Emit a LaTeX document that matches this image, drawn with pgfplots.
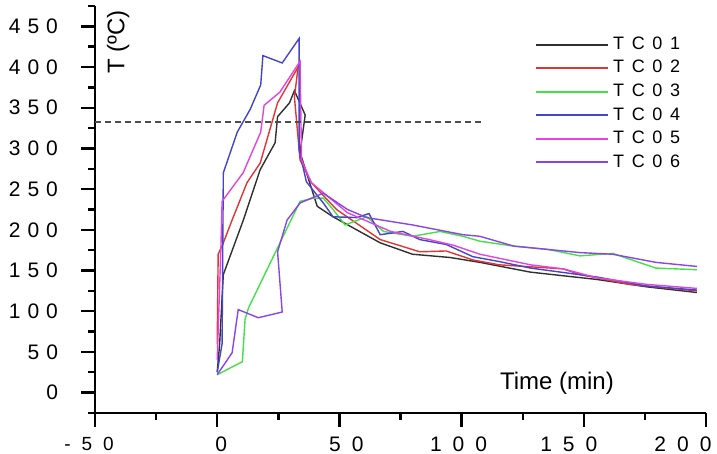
\documentclass[border=0pt]{standalone}
\usepackage{fontspec}
\setmainfont{Liberation Sans}
\usepackage{pgfplots}
\pgfplotsset{compat=1.18}

\definecolor{tcA}{HTML}{303030}
\definecolor{tcB}{HTML}{E03535}
\definecolor{tcC}{HTML}{45E045}
\definecolor{tcD}{HTML}{4545C8}
\definecolor{tcE}{HTML}{E045E0}
\definecolor{tcF}{HTML}{8A45E8}

% spaced digits, as in the original figure
\newcommand{\ys}{\kern3.5pt}
\newcommand{\xs}{\kern5.5pt}
\newcommand{\ls}{\kern3.8pt}

\begin{document}
\begin{tikzpicture}
\begin{axis}[
    scale only axis,
    width=305.5pt, height=203.5pt,
    xmin=-50, xmax=200,
    ymin=-25, ymax=475,
    axis x line=bottom, axis y line=left,
    axis line style={-, line width=1.2pt},
    xtick={-50,0,50,100,150,200},
    xticklabels={\raisebox{3pt}{\fontsize{9.5}{10}\selectfont -\xs 5\xs 0}\kern6pt,
        \kern4pt 0,\kern7pt 5\xs 0,1\xs 0\xs 0\kern3pt,1\xs 5\xs 0\kern15pt,2\xs 0\xs 0\kern23pt},
    ytick={0,50,...,450},
    yticklabels={0,5\ys 0,1\ys 0\ys 0,1\ys 5\ys 0,2\ys 0\ys 0,2\ys 5\ys 0,3\ys 0\ys 0,3\ys 5\ys 0,4\ys 0\ys 0,4\ys 5\ys 0},
    minor xtick={-25,25,75,125,175},
    minor ytick={-25,25,...,475},
    tick align=outside,
    major tick length=7pt, minor tick length=3.5pt,
    tick style={black, line width=1.2pt},
    yticklabel style={font=\fontsize{10.5}{11}\selectfont, xshift=-8pt},
    xticklabel style={font=\fontsize{10.5}{11}\selectfont, yshift=-1.5pt},
    clip=false,
    legend style={draw=none, fill=none, at={(rel axis cs:0.71,0.945)}, anchor=north west,
        font=\fontsize{9}{10}\selectfont, row sep=0pt,
        /tikz/every even column/.append style={column sep=3pt}},
    legend cell align=left,
    legend image code/.code={\draw[#1, line width=1pt] (0pt,0pt) -- (36pt,0pt);},
    every axis plot/.append style={line width=0.7pt},
]
\addplot[tcA] coordinates {(0,25)(1,60)(2.5,145)(10.7,212)(17.6,274)(23.7,307)(24.7,339)(29.6,356)(31.6,371)(36,341)(33.9,295)(40.9,229)(47.4,216)(66.7,184)(79.9,170)(95.3,166)(107.5,160)(128.2,148)(155.4,139)(175.6,130)(196.3,123)};
\addplot[tcB] coordinates {(0,60)(0.4,170)(2.5,184)(6.1,212)(12.2,258)(17.6,282)(24.7,356)(33.1,400)(31.6,363)(33.9,286)(38.5,258)(48.8,225)(66.7,188)(82.9,173)(93.7,174)(104.6,163)(115.4,157)(141.6,152)(148.5,145)(168.7,133)(196.3,125)};
\addplot[tcC] coordinates {(0,22)(10.3,38)(11.4,90)(12.8,104)(33.9,235)(39.5,239)(43.4,239)(47.4,225)(52.3,206)(61.2,216)(68.1,198)(79.9,192)(91.2,198)(100.6,192)(107.5,186)(121.3,180)(135.1,176)(148.5,168)(161.8,171)(179.5,153)(196.3,151)};
\addplot[tcD] coordinates {(0,25)(2,60)(2.5,270)(8.2,320)(13.5,348)(17.8,378)(18.7,414)(26.6,405)(33.5,435)(33.5,298)(36.5,259)(43.4,233)(47.4,216)(57.2,215)(62.1,220)(66.7,194)(76,198)(82.9,188)(93.7,182)(104.6,167)(115.4,161)(128.2,153)(155.4,142)(175.6,131)(196.3,126)};
\addplot[tcE] coordinates {(0,40)(1.5,176)(2,235)(10.6,270)(17.8,320)(19.2,353)(25.6,369)(33.9,407)(34.5,286)(38.5,258)(53.3,221)(71,198)(86.8,188)(96.7,181)(107.5,170)(128.2,157)(141.6,152)(155.4,141)(175.6,133)(196.3,128)};
\addplot[tcF] coordinates {(0,22)(6.1,49)(8.6,102)(16.8,92)(26.6,99)(24.7,173)(28.6,212)(33.9,233)(43.4,245)(53.3,225)(61.2,215)(79.9,206)(100.6,194)(107.5,192)(121.3,180)(148.5,172)(161.8,170)(179.5,160)(196.3,155)};
\addplot[forget plot, color=black!70, line width=1pt, dash pattern=on 3pt off 2pt] coordinates {(-50,332)(108.4,332)};
\legend{T\ls C\ls 0\ls 1,T\ls C\ls 0\ls 2,T\ls C\ls 0\ls 3,T\ls C\ls 0\ls 4,T\ls C\ls 0\ls 5,T\ls C\ls 0\ls 6}
\node[rotate=90, font=\fontsize{12}{13}\selectfont] at (axis cs:-40.5,431) {T (ºC)};
\node[font=\fontsize{12}{13}\selectfont] at (axis cs:139,12) {Time (min)};
\coordinate (BL) at (rel axis cs:-0.1555,-0.1005);
\coordinate (TR) at (rel axis cs:1.018,1.0147);
\end{axis}
\pgfresetboundingbox
\path[use as bounding box] (BL) rectangle (TR);
\end{tikzpicture}
\end{document}
